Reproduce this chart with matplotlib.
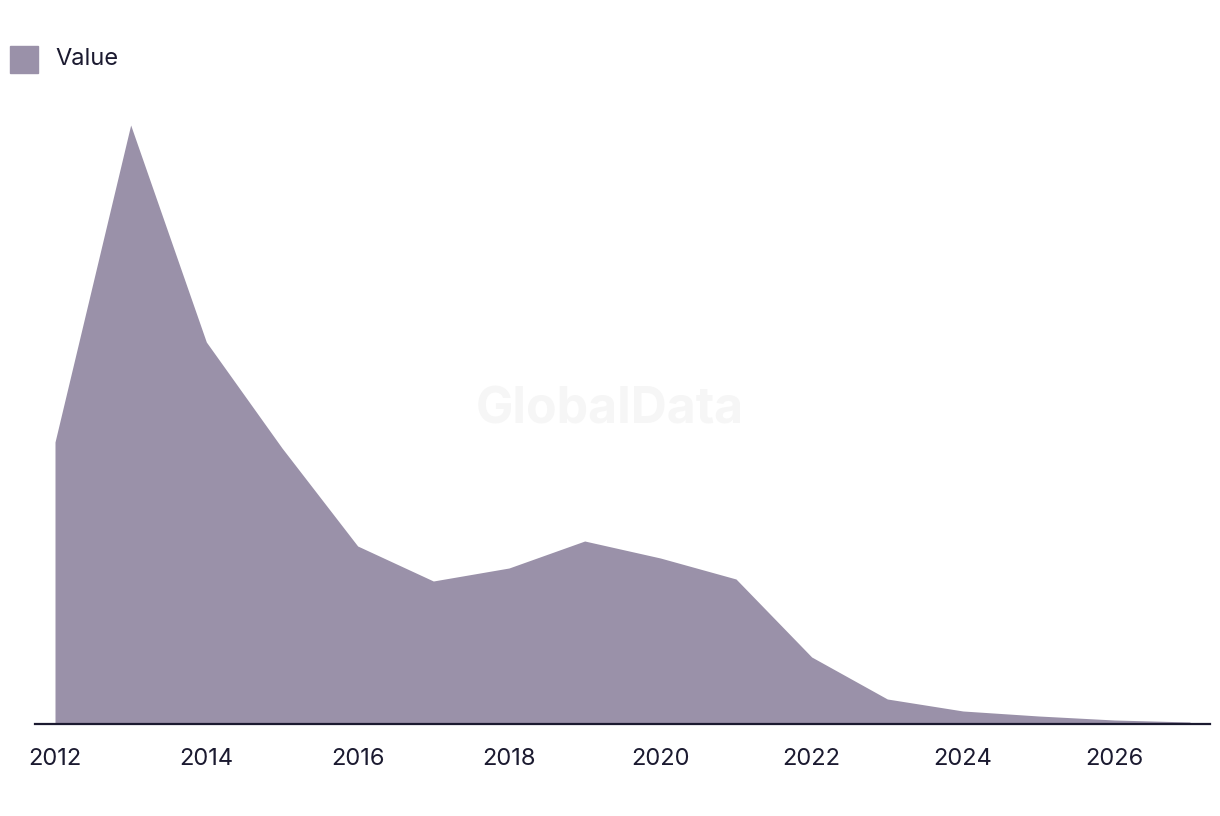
import matplotlib
matplotlib.use("Agg")
import matplotlib.pyplot as plt
from matplotlib.patches import Rectangle

years = list(range(2012, 2028))
values = [282, 599, 382, 276, 178, 143, 156, 183, 166, 145, 67, 25, 13, 8, 4, 2]
tick_years = [2012, 2014, 2016, 2018, 2020, 2022, 2024, 2026]
series_name = "Value"

fill_color = "#9a91a9"
text_color = "#1b1a30"

plt.rcParams['font.family'] = ['Inter', 'DejaVu Sans']

W, H = 1220, 816
fig = plt.figure(figsize=(W / 100, H / 100), dpi=100)
ax = fig.add_axes([35 / W, 92 / H, 1175 / W, 624 / H])

ax.fill_between(years, values, 0, color=fill_color, linewidth=0, zorder=2)
ax.set_xlim(2012 - 20 / 75.67, 2027 + 20 / 75.67)
ax.set_ylim(0, 624)

for s in ['top', 'right', 'left']:
    ax.spines[s].set_visible(False)
ax.spines['bottom'].set_color(text_color)
ax.spines['bottom'].set_linewidth(1.6)
ax.spines['bottom'].set_zorder(3)
ax.set_yticks([])
ax.set_xticks(tick_years)
ax.set_xticklabels([str(y) for y in tick_years], fontsize=17, color=text_color)
ax.tick_params(axis='x', length=0, pad=17)

# watermark
fig.text(610 / W, 1 - 410 / H, "GlobalData", fontsize=36, fontweight='bold',
         color="#f6f6f6", ha='center', va='center', zorder=0)

# legend
fig.patches.append(Rectangle((10 / W, 1 - 73 / H), 28 / W, 27 / H,
                             transform=fig.transFigure, color=fill_color))
fig.text(55 / W, 1 - 59 / H, series_name, fontsize=17, color=text_color,
         ha='left', va='center')

fig.savefig("out.png", dpi=100)
